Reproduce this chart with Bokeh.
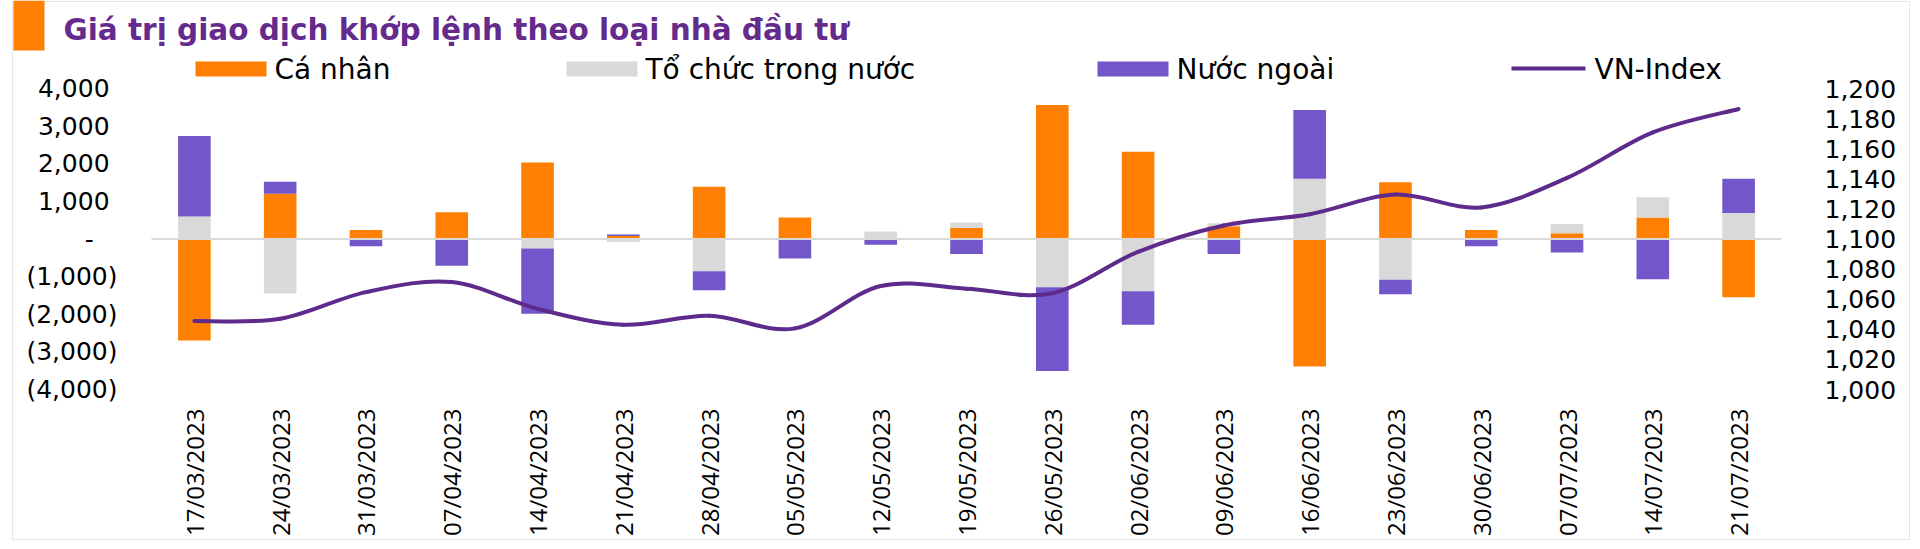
import math
from bokeh.plotting import figure
from bokeh.models import (Range1d, LinearAxis, FixedTicker, CustomJSTickFormatter,
                          NumeralTickFormatter, Label, BoxAnnotation)
from bokeh.embed import file_html
from bokeh.resources import INLINE

# ---------------- data ----------------
dates = ["17/03/2023", "24/03/2023", "31/03/2023", "07/04/2023", "14/04/2023",
         "21/04/2023", "28/04/2023", "05/05/2023", "12/05/2023", "19/05/2023",
         "26/05/2023", "02/06/2023", "09/06/2023", "16/06/2023", "23/06/2023",
         "30/06/2023", "07/07/2023", "14/07/2023", "21/07/2023"]
ca_nhan = [-2700, 1200, 240, 710, 2030, 80, 1390, 570, 0, 290,
           3560, 2320, 340, -3390, 1510, 240, 150, 570, -1550]
to_chuc = [600, -1450, -10, -20, -250, -80, -860, -20, 200, 150,
           -1280, -1390, 80, 1600, -1080, -20, 250, 540, 690]
nuoc_ngoai = [2140, 320, -180, -690, -1740, 40, -500, -500, -150, -400,
              -2230, -890, -400, 1830, -390, -170, -360, -1070, 910]
vn_index = [1045.5, 1047.0, 1064.7, 1071.4, 1053.6, 1043.0, 1049.0, 1040.6, 1068.8, 1067.0,
            1064.0, 1091.5, 1109.0, 1116.5, 1129.5, 1121.0, 1140.6, 1170.8, 1186.4]
left_ticks = [-4000, -3000, -2000, -1000, 0, 1000, 2000, 3000, 4000]
right_ticks = [1000, 1020, 1040, 1060, 1080, 1100, 1120, 1140, 1160, 1180, 1200]
series_names = ["Cá nhân", "Tổ chức trong nước", "Nước ngoài", "VN-Index"]
title_text = "Giá trị giao dịch khớp lệnh theo loại nhà đầu tư"

ORANGE = "#FF7F00"
GREY = "#D9D9D9"
PURPLE = "#7356C9"
LINE = "#5E2B8C"
TITLE = "#642A8C"

# ---------------- geometry (canvas pixels) ----------------
W, H = 1920, 549
PL, PR, PT, PB = 151, 1781, 88, 389      # plot area inside the canvas

n = len(dates)
xs = list(range(n))

x_lo, x_hi = -0.5, n - 0.5
xpp = (x_hi - x_lo) / (PR - PL)
x_range = Range1d(x_lo - PL * xpp, x_hi + (W - PR) * xpp)

yl_lo, yl_hi = left_ticks[0], left_ticks[-1]
ypp = (yl_hi - yl_lo) / (PB - PT)
y_range = Range1d(yl_lo - (H - PB) * ypp, yl_hi + PT * ypp)

yr_lo, yr_hi = right_ticks[0], right_ticks[-1]
rpp = (yr_hi - yr_lo) / (PB - PT)
vn_range = Range1d(yr_lo - (H - PB) * rpp, yr_hi + PT * rpp)

p = figure(width=W, height=H, output_backend="svg", toolbar_location=None,
           x_range=x_range, y_range=y_range,
           min_border_left=0, min_border_right=0, min_border_top=0, min_border_bottom=0,
           x_axis_location=None, y_axis_location=None)
p.grid.visible = False
p.outline_line_color = None
p.background_fill_color = "white"
p.border_fill_color = "white"
p.extra_y_ranges = {"vn": vn_range}


def style_axis(ax, font, size, standoff):
    ax.axis_line_color = None
    ax.major_tick_line_color = None
    ax.minor_tick_line_color = None
    ax.major_tick_out = 0
    ax.major_tick_in = 0
    ax.minor_tick_out = 0
    ax.minor_tick_in = 0
    ax.major_label_text_font = font
    ax.major_label_text_font_size = size
    ax.major_label_text_color = "#000000"
    ax.major_label_standoff = standoff


ly = LinearAxis(ticker=FixedTicker(ticks=left_ticks), fixed_location=x_lo)
ly.formatter = CustomJSTickFormatter(code=r"""
if (tick == 0) { return "-\u00a0\u00a0\u00a0"; }
const s = Math.abs(tick).toLocaleString('en-US');
return tick < 0 ? "(" + s + ")" : s + "\u00a0";
""")
style_axis(ly, "DejaVu Sans", "25px", 34)
p.add_layout(ly, "left")

ry = LinearAxis(y_range_name="vn", ticker=FixedTicker(ticks=right_ticks),
                formatter=NumeralTickFormatter(format="0,0"), fixed_location=x_hi)
style_axis(ry, "DejaVu Sans", "25px", 43)
p.add_layout(ry, "right")

xa = LinearAxis(ticker=FixedTicker(ticks=xs), fixed_location=yl_lo)
xa.major_label_overrides = {i: d for i, d in zip(xs, dates)}
xa.major_label_orientation = math.pi / 2
style_axis(xa, "Open Sans", "24px", 19)
p.add_layout(xa, "below")

# ---------------- stacked bars (Excel style: +/- stacks separately) ----------------
pos = [0.0] * n
neg = [0.0] * n
for vals, color in [(ca_nhan, ORANGE), (to_chuc, GREY), (nuoc_ngoai, PURPLE)]:
    bottoms, tops = [], []
    for i, v in enumerate(vals):
        if v >= 0:
            b = pos[i]
            pos[i] = b + v
        else:
            b = neg[i]
            neg[i] = b + v
        bottoms.append(b)
        tops.append(b + v)
    p.vbar(x=xs, bottom=bottoms, top=tops, width=0.38, fill_color=color, line_color=None)

p.segment(x0=[x_lo], x1=[x_hi], y0=[0], y1=[0], line_color=GREY, line_width=2)

# ---------------- smoothed VN-Index line ----------------
bx0, by0, bx1, by1, bcx0, bcy0, bcx1, bcy1 = [], [], [], [], [], [], [], []
for i in range(n - 1):
    im = i - 1 if i > 0 else i
    ip = i + 2 if i + 2 < n else i + 1
    bx0.append(xs[i]); by0.append(vn_index[i])
    bx1.append(xs[i + 1]); by1.append(vn_index[i + 1])
    bcx0.append(xs[i] + (xs[i + 1] - xs[im]) / 6.0)
    bcy0.append(vn_index[i] + (vn_index[i + 1] - vn_index[im]) / 6.0)
    bcx1.append(xs[i + 1] - (xs[ip] - xs[i]) / 6.0)
    bcy1.append(vn_index[i + 1] - (vn_index[ip] - vn_index[i]) / 6.0)
p.bezier(x0=bx0, y0=by0, x1=bx1, y1=by1, cx0=bcx0, cy0=bcy0, cx1=bcx1, cy1=bcy1,
         line_color=LINE, line_width=4, line_cap="round", y_range_name="vn")


# ---------------- decorations (screen units; frame == whole canvas) ----------------
def sy(cy):
    return H - cy


def box(x0, x1, y0, y1, **kw):
    return BoxAnnotation(left=x0, right=x1, bottom=sy(y1), top=sy(y0),
                         left_units="screen", right_units="screen",
                         bottom_units="screen", top_units="screen", **kw)


p.add_layout(box(12, 1909, 1, 539, fill_color=None, line_color="#E6E6E6",
                 line_width=1, line_alpha=1))
p.add_layout(box(13, 44, 0, 50, fill_color=ORANGE, fill_alpha=1, line_color=None))
p.add_layout(Label(x=63, y=sy(29), x_units="screen", y_units="screen",
                   text=title_text, text_font="DejaVu Sans", text_font_size="29.5px",
                   text_font_style="bold", text_color=TITLE,
                   text_align="left", text_baseline="alphabetic"))

legend_specs = [
    (series_names[0], ORANGE, 195, 266, 274, 61, 76),
    (series_names[1], GREY, 566, 637, 645, 61, 76),
    (series_names[2], PURPLE, 1097, 1168, 1176, 61, 76),
    (series_names[3], LINE, 1511, 1585, 1594, 66, 70),
]
for name, color, x0, x1, tx, y0, y1 in legend_specs:
    p.add_layout(box(x0, x1, y0, y1, fill_color=color, fill_alpha=1, line_color=None))
    p.add_layout(Label(x=tx, y=sy(69), x_units="screen", y_units="screen",
                       text=name, text_font="DejaVu Sans", text_font_size="28px",
                       text_color="#000000", text_align="left", text_baseline="alphabetic"))

open("out.html", "w").write(file_html(p, INLINE))
